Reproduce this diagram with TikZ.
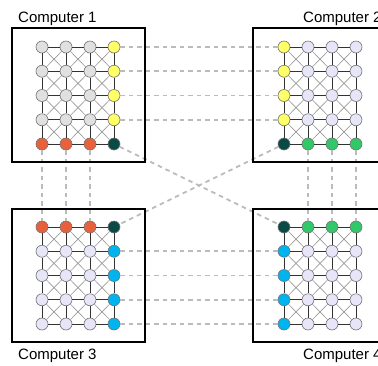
\documentclass[tikz,border=0pt]{standalone}
\usepackage{fontspec}
\setmainfont{Liberation Sans}
\definecolor{nG}{HTML}{E0E0E0}
\definecolor{nY}{HTML}{FFFF66}
\definecolor{nO}{HTML}{E8603C}
\definecolor{nK}{HTML}{0A4A44}
\definecolor{nL}{HTML}{E6E6F8}
\definecolor{nE}{HTML}{32C86A}
\definecolor{nB}{HTML}{00B4F0}
\definecolor{halocol}{HTML}{BBBBBB}
\tikzset{
	pc/.style={draw=black, line width=2.8pt},
	vtx/.style={circle, draw=black!55, line width=0.6pt, minimum size=12pt, inner sep=0pt},
	lnk/.style={draw=black!80, line width=0.7pt},
	diag/.style={draw=black!40, line width=0.6pt},
	halo/.style={draw=halocol, line width=1.8pt, dash pattern=on 4.5pt off 4pt},
	pclabel/.style={anchor=base west, inner sep=0pt, font=\fontsize{15}{18}\selectfont},
}
\begin{document}
\begin{tikzpicture}[x=1pt,y=-1pt]
		\useasboundingbox (0,0) rectangle (378,365);
		\def\dx{24}
		\def\dy{24.25}
		% computer 1
		\foreach \row [count=\j] in {{nG,nG,nG,nY},{nG,nG,nG,nY},{nG,nG,nG,nY},{nG,nG,nG,nY},{nO,nO,nO,nK}}
			\foreach \col [count=\i] in \row
				\node[vtx, fill=\col] (A-\i-\j) at ({42+(\i-1)*\dx},{47+(\j-1)*\dy}) {};
		% computer 2
		\foreach \row [count=\j] in {{nY,nL,nL,nL},{nY,nL,nL,nL},{nY,nL,nL,nL},{nY,nL,nL,nL},{nK,nE,nE,nE}}
			\foreach \col [count=\i] in \row
				\node[vtx, fill=\col] (B-\i-\j) at ({284+(\i-1)*\dx},{47+(\j-1)*\dy}) {};
		% computer 3
		\foreach \row [count=\j] in {{nO,nO,nO,nK},{nL,nL,nL,nB},{nL,nL,nL,nB},{nL,nL,nL,nB},{nL,nL,nL,nB}}
			\foreach \col [count=\i] in \row
				\node[vtx, fill=\col] (C-\i-\j) at ({42+(\i-1)*\dx},{227+(\j-1)*\dy}) {};
		% computer 4
		\foreach \row [count=\j] in {{nK,nE,nE,nE},{nB,nL,nL,nL},{nB,nL,nL,nL},{nB,nL,nL,nL},{nB,nL,nL,nL}}
			\foreach \col [count=\i] in \row
				\node[vtx, fill=\col] (D-\i-\j) at ({284+(\i-1)*\dx},{227+(\j-1)*\dy}) {};
		% grid links
		\foreach \c in {A,B,C,D} {
			\foreach \p/\pp in {1/2,2/3,3/4}
				\foreach \q/\qq in {1/2,2/3,3/4,4/5} {
					\draw[diag] (\c-\p-\q) -- (\c-\pp-\qq);
					\draw[diag] (\c-\pp-\q) -- (\c-\p-\qq);
				}
			\foreach \p/\pp in {1/2,2/3,3/4}
				\foreach \q in {1,...,5}
					\draw[lnk] (\c-\p-\q) -- (\c-\pp-\q);
			\foreach \p in {1,...,4}
				\foreach \q/\qq in {1/2,2/3,3/4,4/5}
					\draw[lnk] (\c-\p-\q) -- (\c-\p-\qq);
		}
		% halo exchange
		\foreach \q in {1,...,4}
			\draw[halo] (A-4-\q) -- (B-1-\q);
		\foreach \q in {2,...,5}
			\draw[halo] (C-4-\q) -- (D-1-\q);
		\foreach \p in {1,2,3}
			\draw[halo] (A-\p-5) -- (C-\p-1);
		\foreach \p in {2,3,4}
			\draw[halo] (B-\p-5) -- (D-\p-1);
		\draw[halo] (A-4-5) -- (D-1-1);
		\draw[halo] (B-1-5) -- (C-4-1);
		% computers
		\draw[pc] (12,28) rectangle (145,162);
		\draw[pc] (253,28) rectangle (387,162);
		\draw[pc] (12,209) rectangle (145,342);
		\draw[pc] (253,209) rectangle (387,342);
		\node[pclabel] (l1) at (18,22) {Computer 1};
		\node[pclabel] (l2) at (303,22) {Computer 2};
		\node[pclabel] (l3) at (18,359) {Computer 3};
		\node[pclabel] (l4) at (303,359) {Computer 4};
	\end{tikzpicture}
\end{document}
